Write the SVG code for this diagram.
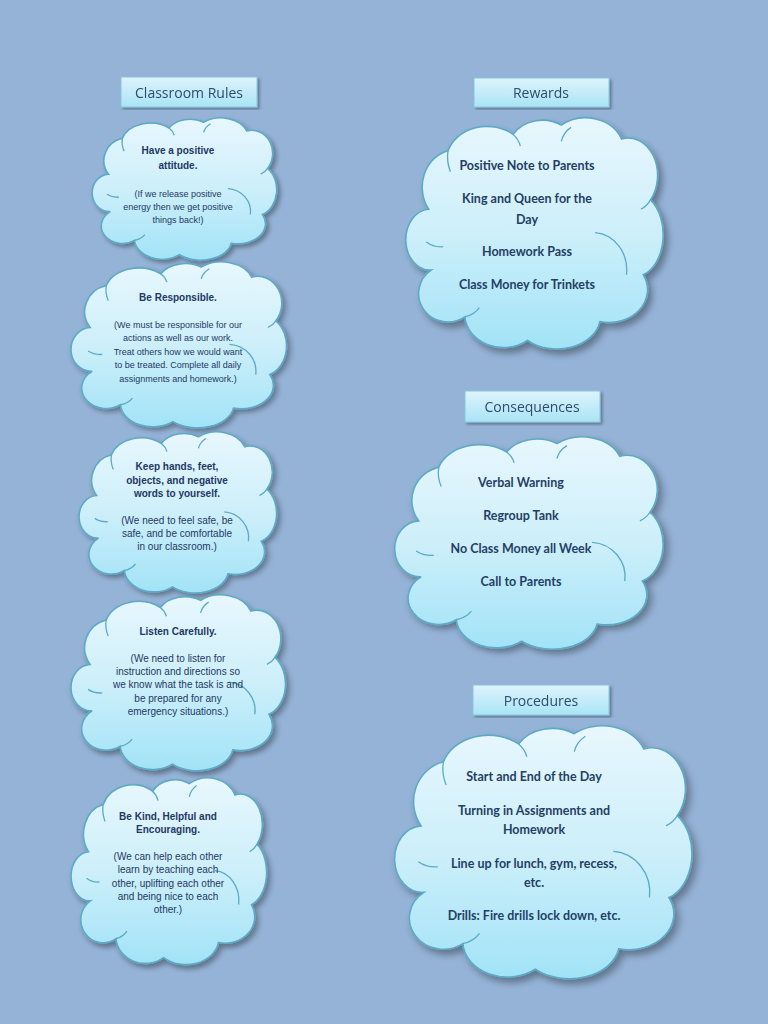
<svg xmlns="http://www.w3.org/2000/svg" xmlns:xlink="http://www.w3.org/1999/xlink" width="768" height="1024" viewBox="0 0 768 1024">
<defs>
<linearGradient id="cg" x1="0" y1="0" x2="0" y2="1">
<stop offset="0" stop-color="#E8F7FD"/>
<stop offset="0.5" stop-color="#CDEFFA"/>
<stop offset="1" stop-color="#A2E3F7"/>
</linearGradient>
<linearGradient id="hg" x1="0" y1="0" x2="0" y2="1">
<stop offset="0" stop-color="#DDF4FC"/>
<stop offset="1" stop-color="#A9E4F6"/>
</linearGradient>
<filter id="sh" x="-10%" y="-10%" width="120%" height="120%">
<feGaussianBlur in="SourceAlpha" stdDeviation="1.5"/>
<feOffset dx="1.5" dy="2" result="o"/>
<feComponentTransfer><feFuncA type="linear" slope="0.35"/></feComponentTransfer>
<feMerge><feMergeNode/><feMergeNode in="SourceGraphic"/></feMerge>
</filter>
<g id="cloud">
<g transform="scale(0.9346,1) translate(4,-3)">
<path class="cl" d="M 5,42 A 14,16 0 0 1 13,17 A 17,15 0 0 1 40,10 A 14,12 0 0 1 60,6 A 16,14 0 0 1 85,12 A 12,16 0 0 1 97,38 A 12,18 0 0 1 94,70 A 16,14 0 0 1 76,90 A 18,14 0 0 1 46,98 A 16,14 0 0 1 20,88 A 12,12 0 0 1 6,68 A 10,13 0 0 1 5,42 Z"/>
<path class="cr" d="M 74,52 A 14,16 0 0 1 87,70"/>
<path class="cr" d="M 13,17 A 14,16 0 0 0 14,26"/>
<path class="cr" d="M 4,56 A 10,10 0 0 0 11,58"/>
<path class="cr" d="M 40,10 A 10,10 0 0 1 43,15"/>
<path class="cr" d="M 64,7 A 10,10 0 0 0 60,13"/>
<path class="cr" d="M 97,38 A 10,10 0 0 1 93,42"/>
<path class="cr" d="M 20,88 A 10,10 0 0 0 26,84"/>
</g>
</g>
</defs>
<style>
.cl{fill:url(#cg);stroke:#5BAAC6;stroke-width:1.6;vector-effect:non-scaling-stroke}
.cr{fill:none;stroke:#5BAAC6;stroke-width:1.3;vector-effect:non-scaling-stroke}
.hb{fill:url(#hg);stroke:#86C8DE;stroke-width:1}
.ht{font-family:"Open Sans","DejaVu Sans",sans-serif;font-size:14px;fill:#2F4B6E;text-anchor:middle}
.rt{font-family:"Lato","Open Sans",sans-serif;font-weight:bold;font-size:12.5px;fill:#243F66;text-anchor:middle}
.lt{font-family:"Liberation Sans Narrow","Liberation Sans",sans-serif;font-weight:bold;font-size:10px;fill:#1F3864;text-anchor:middle}
.lb{font-family:"Liberation Sans Narrow","Liberation Sans",sans-serif;font-size:9px;fill:#1F3864;text-anchor:middle}
.lb2{font-family:"Liberation Sans Narrow","Liberation Sans",sans-serif;font-size:10px;fill:#1F3864;text-anchor:middle}
</style>
<rect width="768" height="1024" fill="#95B3D7"/>

<g id="hdr-rules" filter="url(#sh)">
<rect class="hb" x="121" y="77" width="136" height="30"/>
<text class="ht" x="189" y="98">Classroom Rules</text>
</g>
<g id="hdr-rewards" filter="url(#sh)">
<rect class="hb" x="474" y="78" width="135" height="29"/>
<text class="ht" x="541" y="98">Rewards</text>
</g>
<g id="hdr-consequences" filter="url(#sh)">
<rect class="hb" x="465" y="391" width="135" height="31"/>
<text class="ht" x="532" y="412">Consequences</text>
</g>
<g id="hdr-procedures" filter="url(#sh)">
<rect class="hb" x="473" y="685" width="136" height="30"/>
<text class="ht" x="541" y="706">Procedures</text>
</g>

<g id="connectors"></g>

<g id="rule1">
<use xlink:href="#cloud" href="#cloud" filter="url(#sh)" transform="translate(93,118) scale(1.85,1.44)"/>
<text class="lt" x="178" y="154">Have a positive</text>
<text class="lt" x="178" y="169">attitude.</text>
<text class="lb" x="178" y="197">(If we release positive</text>
<text class="lb" x="178" y="210">energy then we get positive</text>
<text class="lb" x="178" y="223">things back!)</text>
</g>

<g id="rule2">
<use xlink:href="#cloud" href="#cloud" filter="url(#sh)" transform="translate(72,262) scale(2.16,1.68)"/>
<text class="lt" x="178" y="301">Be Responsible.</text>
<text class="lb" x="178" y="328">(We must be responsible for our</text>
<text class="lb" x="178" y="341">actions as well as our work.</text>
<text class="lb" x="178" y="355">Treat others how we would want</text>
<text class="lb" x="178" y="368">to be treated. Complete all daily</text>
<text class="lb" x="178" y="382">assignments and homework.)</text>
</g>

<g id="rule3">
<use xlink:href="#cloud" href="#cloud" filter="url(#sh)" transform="translate(80,432) scale(1.98,1.63)"/>
<text class="lt" x="177" y="470">Keep hands, feet,</text>
<text class="lt" x="177" y="484">objects, and negative</text>
<text class="lt" x="177" y="497">words to yourself.</text>
<text class="lb2" x="177" y="524">(We need to feel safe, be</text>
<text class="lb2" x="177" y="537">safe, and be comfortable</text>
<text class="lb2" x="177" y="550">in our classroom.)</text>
</g>

<g id="rule4">
<use xlink:href="#cloud" href="#cloud" filter="url(#sh)" transform="translate(72,595) scale(2.15,1.78)"/>
<text class="lt" x="178" y="635">Listen Carefully.</text>
<text class="lb2" x="178" y="662">(We need to listen for</text>
<text class="lb2" x="178" y="675">instruction and directions so</text>
<text class="lb2" x="178" y="688">we know what the task is and</text>
<text class="lb2" x="178" y="702">be prepared for any</text>
<text class="lb2" x="178" y="715">emergency situations.)</text>
</g>

<g id="rule5">
<use xlink:href="#cloud" href="#cloud" filter="url(#sh)" transform="translate(72,778) scale(1.96,1.89)"/>
<text class="lt" x="168" y="820">Be Kind, Helpful and</text>
<text class="lt" x="168" y="833">Encouraging.</text>
<text class="lb2" x="168" y="860">(We can help each other</text>
<text class="lb2" x="168" y="873">learn by teaching each</text>
<text class="lb2" x="168" y="887">other, uplifting each other</text>
<text class="lb2" x="168" y="900">and being nice to each</text>
<text class="lb2" x="168" y="913">other.)</text>
</g>

<g id="rewards">
<use xlink:href="#cloud" href="#cloud" filter="url(#sh)" transform="translate(407,118) scale(2.58,2.34)"/>
<text class="rt" x="527" y="170">Positive Note to Parents</text>
<text class="rt" x="527" y="203">King and Queen for the</text>
<text class="rt" x="527" y="224">Day</text>
<text class="rt" x="527" y="256">Homework Pass</text>
<text class="rt" x="527" y="289">Class Money for Trinkets</text>
</g>

<g id="consequences">
<use xlink:href="#cloud" href="#cloud" filter="url(#sh)" transform="translate(396,437) scale(2.69,2.15)"/>
<text class="rt" x="521" y="487">Verbal Warning</text>
<text class="rt" x="521" y="520">Regroup Tank</text>
<text class="rt" x="521" y="553">No Class Money all Week</text>
<text class="rt" x="521" y="586">Call to Parents</text>
</g>

<g id="procedures">
<use xlink:href="#cloud" href="#cloud" filter="url(#sh)" transform="translate(396,726) scale(2.98,2.56)"/>
<text class="rt" x="534" y="781">Start and End of the Day</text>
<text class="rt" x="534" y="815">Turning in Assignments and</text>
<text class="rt" x="534" y="834">Homework</text>
<text class="rt" x="534" y="868">Line up for lunch, gym, recess,</text>
<text class="rt" x="534" y="887">etc.</text>
<text class="rt" x="534" y="920">Drills: Fire drills lock down, etc.</text>
</g>
</svg>
